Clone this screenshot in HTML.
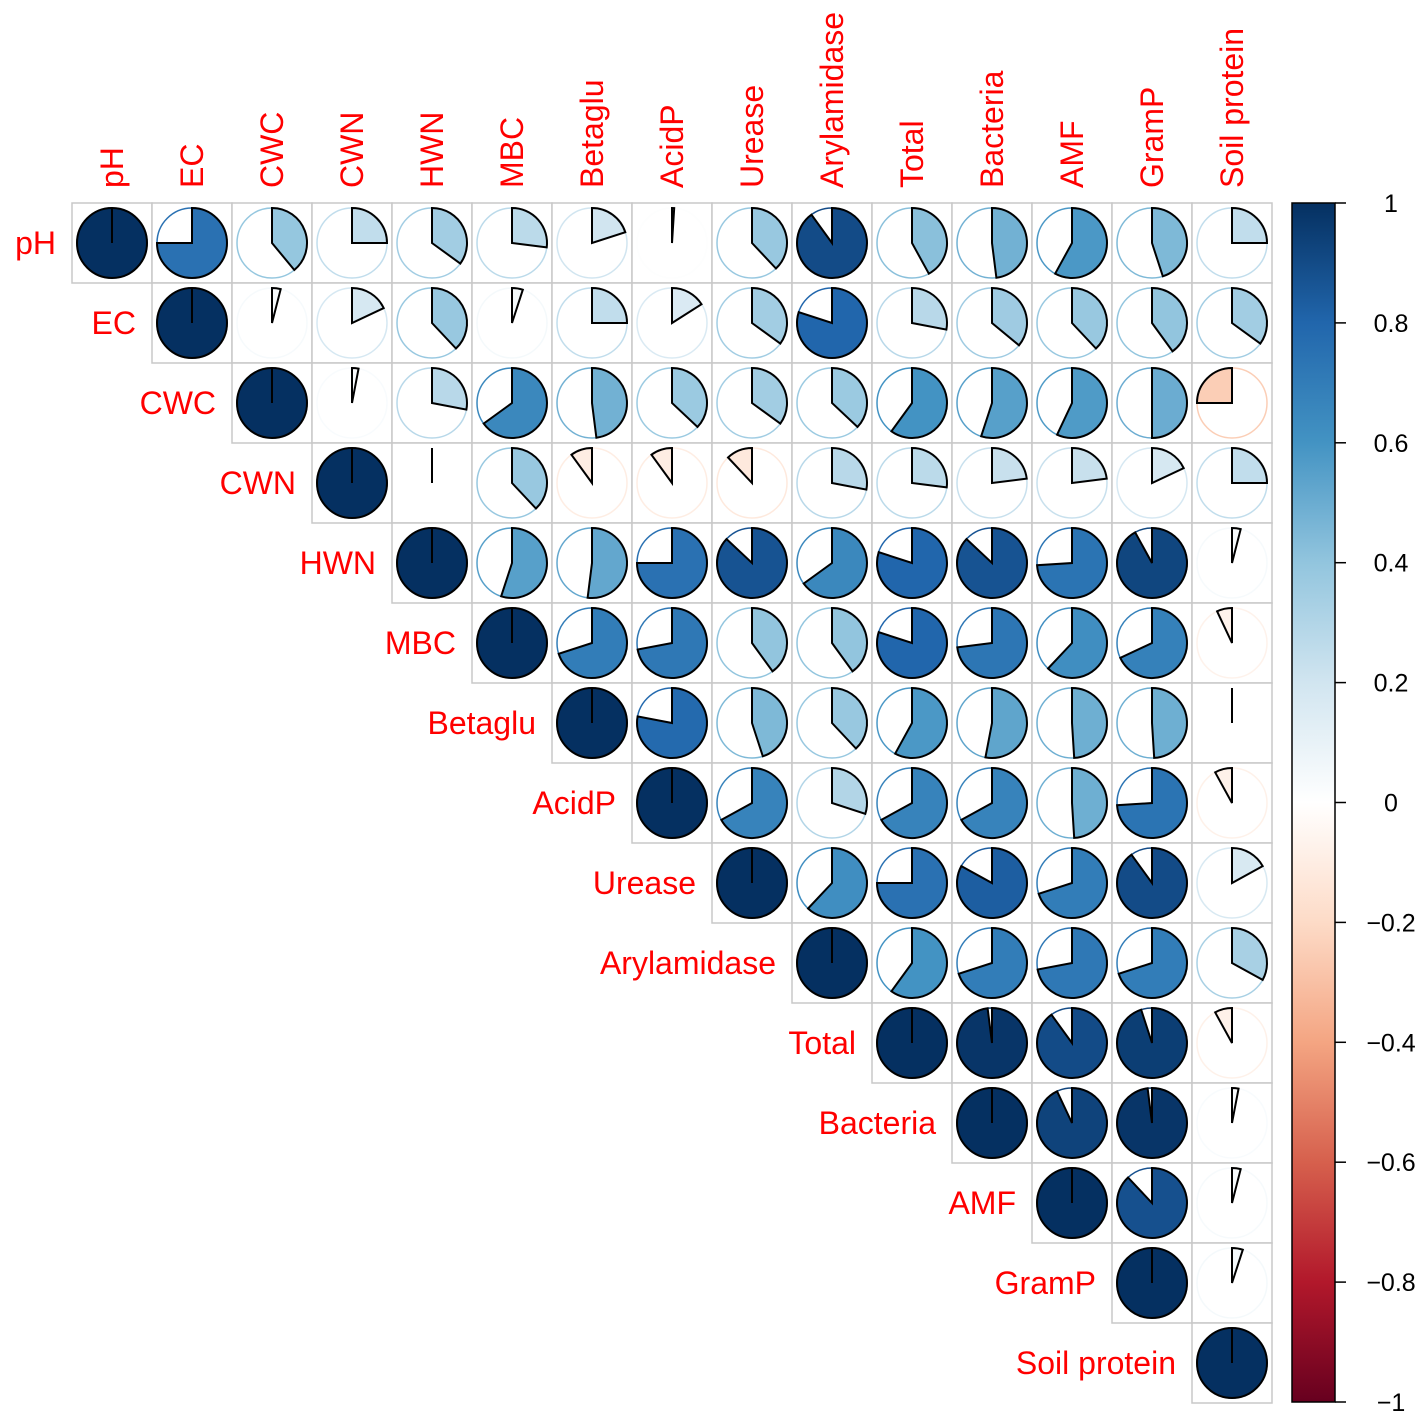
<!DOCTYPE html>
<html><head><meta charset="utf-8"><style>
html,body{margin:0;padding:0;background:#fff;}
svg{display:block;}
text{font-family:"Liberation Sans",Arial,sans-serif;}
</style></head><body>
<svg id="chart" width="1418" height="1412" viewBox="0 0 1418 1412" xmlns="http://www.w3.org/2000/svg">
<defs>
<linearGradient id="cbgrad" x1="0" y1="1" x2="0" y2="0">
<stop offset="0" stop-color="#67001F"/><stop offset="0.1" stop-color="#B2182B"/><stop offset="0.2" stop-color="#D6604D"/><stop offset="0.3" stop-color="#F4A582"/><stop offset="0.4" stop-color="#FDDBC7"/><stop offset="0.5" stop-color="#FFFFFF"/><stop offset="0.6" stop-color="#D1E5F0"/><stop offset="0.7" stop-color="#92C5DE"/><stop offset="0.8" stop-color="#4393C3"/><stop offset="0.9" stop-color="#2166AC"/><stop offset="1" stop-color="#053061"/>
</linearGradient>
</defs>
<g id="cells"></g>
<g id="labels"></g>
<g id="colorbar"></g>
</svg>
<script>
const variables = ["pH","EC","CWC","CWN","HWN","MBC","Betaglu","AcidP","Urease","Arylamidase","Total","Bacteria","AMF","GramP","Soil protein"];
const row0 = [1,0.75,0.39,0.25,0.35,0.27,0.2,0.01,0.38,0.9,0.42,0.48,0.58,0.45,0.25];
const row1 = [1,0.04,0.18,0.38,0.05,0.25,0.16,0.35,0.8,0.28,0.36,0.38,0.4,0.35];
const row2 = [1,0.03,0.28,0.65,0.48,0.37,0.35,0.37,0.6,0.55,0.57,0.5,-0.25];
const row3 = [1,0.0,0.38,-0.1,-0.1,-0.12,0.28,0.27,0.23,0.23,0.18,0.25];
const row4 = [1,0.55,0.52,0.75,0.87,0.65,0.8,0.87,0.74,0.92,0.04];
const row5 = [1,0.7,0.72,0.4,0.4,0.8,0.73,0.62,0.68,-0.07];
const row6 = [1,0.78,0.45,0.38,0.58,0.53,0.49,0.49,0.0];
const row7 = [1,0.67,0.3,0.67,0.67,0.49,0.74,-0.08];
const row8 = [1,0.62,0.75,0.83,0.7,0.9,0.17];
const row9 = [1,0.6,0.7,0.72,0.7,0.33];
const row10 = [1,0.98,0.9,0.95,-0.08];
const row11 = [1,0.93,0.98,0.03];
const row12 = [1,0.88,0.04];
const row13 = [1,0.05];
const row14 = [1];
const rows = [row0,row1,row2,row3,row4,row5,row6,row7,row8,row9,row10,row11,row12,row13,row14];
const cbTicks = [1,0.8,0.6,0.4,0.2,0,-0.2,-0.4,-0.6,-0.8,-1];
const cbTickLabels = ["1","0.8","0.6","0.4","0.2","0","\u22120.2","\u22120.4","\u22120.6","\u22120.8","\u22121"];

const stops = ["#67001F","#B2182B","#D6604D","#F4A582","#FDDBC7","#FFFFFF","#D1E5F0","#92C5DE","#4393C3","#2166AC","#053061"];
function hex(h){return [1,3,5].map(i=>parseInt(h.substr(i,2),16));}
function color(v){
  const t=(v+1)/2*10; const i=Math.min(9,Math.floor(t)); const f=t-i;
  const a=hex(stops[i]), b=hex(stops[i+1]);
  return "rgb("+a.map((x,k)=>Math.round(x+(b[k]-x)*f)).join(",")+")";
}
const X0=72, Y0=203, CS=80, R=35;
const xPos=j=>X0+j*CS, yPos=i=>Y0+i*CS;
const NS="http://www.w3.org/2000/svg";
function mk(tag,attrs,parent){const e=document.createElementNS(NS,tag);for(const k in attrs)e.setAttribute(k,attrs[k]);parent.appendChild(e);return e;}
const cells=document.getElementById('cells');
rows.forEach((row,i)=>{
  row.forEach((v,k)=>{
    const j=i+k;
    const g=mk('g',{},cells);
    
    
    const x=xPos(j), y=yPos(i), cx=x+CS/2, cy=y+CS/2;
    mk('rect',{x:x,y:y,width:CS,height:CS,fill:'#fff',stroke:'#c8c8c8','stroke-width':1.5},g);
    const col=color(v);
    mk('circle',{cx:cx,cy:cy,r:R,fill:'none',stroke:col,'stroke-width':1.5},g);
    const ang=v*2*Math.PI;
    if(Math.abs(v)>=0.999){
      mk('circle',{cx:cx,cy:cy,r:R,fill:col,stroke:'#000','stroke-width':2},g);
      mk('line',{x1:cx,y1:cy,x2:cx,y2:cy-R,stroke:'#000','stroke-width':2},g);
    } else {
      const ex=cx+R*Math.sin(ang), ey=cy-R*Math.cos(ang);
      const large=Math.abs(v)>0.5?1:0, sweep=v>=0?1:0;
      mk('path',{d:`M${cx},${cy} L${cx},${cy-R} A${R},${R} 0 ${large} ${sweep} ${ex.toFixed(2)},${ey.toFixed(2)} Z`,fill:col,stroke:'#000','stroke-width':2,'stroke-linejoin':'miter'},g);
    }
  });
});
const labels=document.getElementById('labels');
variables.forEach((name,i)=>{
  const t=mk('text',{x:xPos(i)-16,y:yPos(i)+CS/2+11,'text-anchor':'end','font-size':32,fill:'#ff0000'},labels);
  t.textContent=name;
  
  
  const cx=xPos(i)+CS/2+11, cy=188;
  const c=mk('text',{x:cx,y:cy,transform:`rotate(-90 ${cx} ${cy})`,'font-size':32,fill:'#ff0000'},labels);
  c.textContent=name;
  
  
});
const cb=document.getElementById('colorbar');
const CBX=1292, CBW=43, CBT=203, CBB=1402;
const cbY=v=>CBT+(1-v)/2*(CBB-CBT);
const bar=mk('rect',{x:CBX,y:CBT,width:CBW,height:CBB-CBT,fill:'url(#cbgrad)',stroke:'#000','stroke-width':1.5},cb);


cbTicks.forEach((v,k)=>{
  mk('line',{x1:CBX+CBW,x2:CBX+CBW+11,y1:cbY(v),y2:cbY(v),stroke:'#000','stroke-width':1.5},cb);
  const t=mk('text',{x:1391,y:cbY(v)+9,'text-anchor':'middle','font-size':25,fill:'#000'},cb);
  t.textContent=cbTickLabels[k];
  
  
});
</script>
</body></html>
